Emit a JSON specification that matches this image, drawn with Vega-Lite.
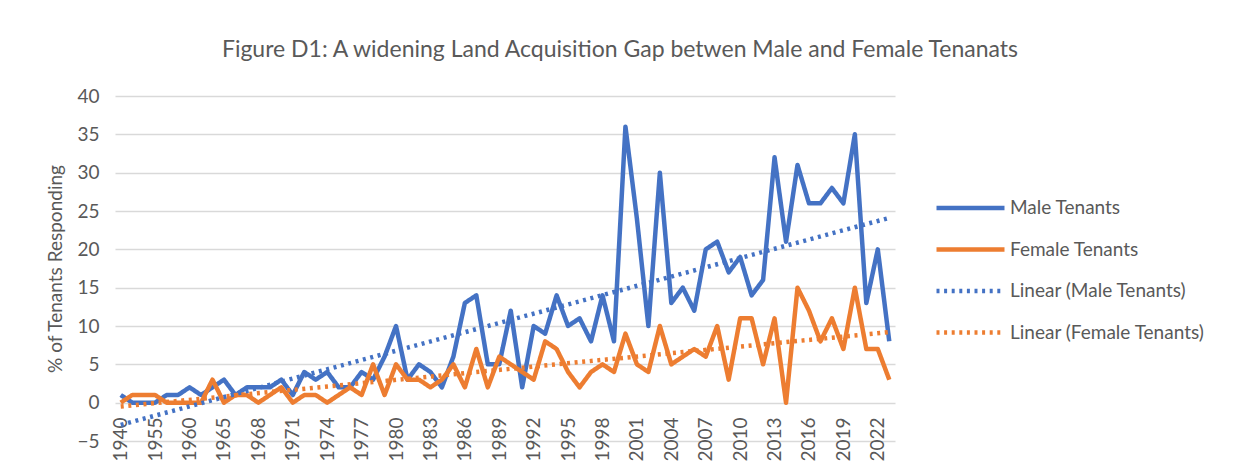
{
  "$schema": "https://vega.github.io/schema/vega-lite/v6.json",
  "width": 780,
  "height": 345,
  "autosize": {"type": "none"},
  "padding": {"left": 115, "top": 96, "right": 339, "bottom": 27},
  "background": "white",
  "title": {
    "text": "Figure D1: A widening Land Acquisition Gap betwen Male and Female Tenanats",
    "fontSize": 23,
    "font": "Lato",
    "fontWeight": "normal",
    "color": "#595959",
    "anchor": "middle",
    "frame": "group",
    "dx": 115,
    "offset": 25
  },
  "config": {
    "view": {"stroke": null},
    "font": "Lato"
  },
  "data": {
    "values": [
      {"year": 1940, "series": "Male Tenants", "value": 1},
      {"year": 1945, "series": "Male Tenants", "value": 0},
      {"year": 1950, "series": "Male Tenants", "value": 0},
      {"year": 1955, "series": "Male Tenants", "value": 0},
      {"year": 1956, "series": "Male Tenants", "value": 1},
      {"year": 1958, "series": "Male Tenants", "value": 1},
      {"year": 1960, "series": "Male Tenants", "value": 2},
      {"year": 1962, "series": "Male Tenants", "value": 1},
      {"year": 1964, "series": "Male Tenants", "value": 2},
      {"year": 1965, "series": "Male Tenants", "value": 3},
      {"year": 1966, "series": "Male Tenants", "value": 1},
      {"year": 1967, "series": "Male Tenants", "value": 2},
      {"year": 1968, "series": "Male Tenants", "value": 2},
      {"year": 1969, "series": "Male Tenants", "value": 2},
      {"year": 1970, "series": "Male Tenants", "value": 3},
      {"year": 1971, "series": "Male Tenants", "value": 1},
      {"year": 1972, "series": "Male Tenants", "value": 4},
      {"year": 1973, "series": "Male Tenants", "value": 3},
      {"year": 1974, "series": "Male Tenants", "value": 4},
      {"year": 1975, "series": "Male Tenants", "value": 2},
      {"year": 1976, "series": "Male Tenants", "value": 2},
      {"year": 1977, "series": "Male Tenants", "value": 4},
      {"year": 1978, "series": "Male Tenants", "value": 3},
      {"year": 1979, "series": "Male Tenants", "value": 6},
      {"year": 1980, "series": "Male Tenants", "value": 10},
      {"year": 1981, "series": "Male Tenants", "value": 3},
      {"year": 1982, "series": "Male Tenants", "value": 5},
      {"year": 1983, "series": "Male Tenants", "value": 4},
      {"year": 1984, "series": "Male Tenants", "value": 2},
      {"year": 1985, "series": "Male Tenants", "value": 6},
      {"year": 1986, "series": "Male Tenants", "value": 13},
      {"year": 1987, "series": "Male Tenants", "value": 14},
      {"year": 1988, "series": "Male Tenants", "value": 5},
      {"year": 1989, "series": "Male Tenants", "value": 5},
      {"year": 1990, "series": "Male Tenants", "value": 12},
      {"year": 1991, "series": "Male Tenants", "value": 2},
      {"year": 1992, "series": "Male Tenants", "value": 10},
      {"year": 1993, "series": "Male Tenants", "value": 9},
      {"year": 1994, "series": "Male Tenants", "value": 14},
      {"year": 1995, "series": "Male Tenants", "value": 10},
      {"year": 1996, "series": "Male Tenants", "value": 11},
      {"year": 1997, "series": "Male Tenants", "value": 8},
      {"year": 1998, "series": "Male Tenants", "value": 14},
      {"year": 1999, "series": "Male Tenants", "value": 8},
      {"year": 2000, "series": "Male Tenants", "value": 36},
      {"year": 2001, "series": "Male Tenants", "value": 24},
      {"year": 2002, "series": "Male Tenants", "value": 10},
      {"year": 2003, "series": "Male Tenants", "value": 30},
      {"year": 2004, "series": "Male Tenants", "value": 13},
      {"year": 2005, "series": "Male Tenants", "value": 15},
      {"year": 2006, "series": "Male Tenants", "value": 12},
      {"year": 2007, "series": "Male Tenants", "value": 20},
      {"year": 2008, "series": "Male Tenants", "value": 21},
      {"year": 2009, "series": "Male Tenants", "value": 17},
      {"year": 2010, "series": "Male Tenants", "value": 19},
      {"year": 2011, "series": "Male Tenants", "value": 14},
      {"year": 2012, "series": "Male Tenants", "value": 16},
      {"year": 2013, "series": "Male Tenants", "value": 32},
      {"year": 2014, "series": "Male Tenants", "value": 21},
      {"year": 2015, "series": "Male Tenants", "value": 31},
      {"year": 2016, "series": "Male Tenants", "value": 26},
      {"year": 2017, "series": "Male Tenants", "value": 26},
      {"year": 2018, "series": "Male Tenants", "value": 28},
      {"year": 2019, "series": "Male Tenants", "value": 26},
      {"year": 2020, "series": "Male Tenants", "value": 35},
      {"year": 2021, "series": "Male Tenants", "value": 13},
      {"year": 2022, "series": "Male Tenants", "value": 20},
      {"year": 2023, "series": "Male Tenants", "value": 8},
      {"year": 1940, "series": "Female Tenants", "value": 0},
      {"year": 1945, "series": "Female Tenants", "value": 1},
      {"year": 1950, "series": "Female Tenants", "value": 1},
      {"year": 1955, "series": "Female Tenants", "value": 1},
      {"year": 1956, "series": "Female Tenants", "value": 0},
      {"year": 1958, "series": "Female Tenants", "value": 0},
      {"year": 1960, "series": "Female Tenants", "value": 0},
      {"year": 1962, "series": "Female Tenants", "value": 0},
      {"year": 1964, "series": "Female Tenants", "value": 3},
      {"year": 1965, "series": "Female Tenants", "value": 0},
      {"year": 1966, "series": "Female Tenants", "value": 1},
      {"year": 1967, "series": "Female Tenants", "value": 1},
      {"year": 1968, "series": "Female Tenants", "value": 0},
      {"year": 1969, "series": "Female Tenants", "value": 1},
      {"year": 1970, "series": "Female Tenants", "value": 2},
      {"year": 1971, "series": "Female Tenants", "value": 0},
      {"year": 1972, "series": "Female Tenants", "value": 1},
      {"year": 1973, "series": "Female Tenants", "value": 1},
      {"year": 1974, "series": "Female Tenants", "value": 0},
      {"year": 1975, "series": "Female Tenants", "value": 1},
      {"year": 1976, "series": "Female Tenants", "value": 2},
      {"year": 1977, "series": "Female Tenants", "value": 1},
      {"year": 1978, "series": "Female Tenants", "value": 5},
      {"year": 1979, "series": "Female Tenants", "value": 1},
      {"year": 1980, "series": "Female Tenants", "value": 5},
      {"year": 1981, "series": "Female Tenants", "value": 3},
      {"year": 1982, "series": "Female Tenants", "value": 3},
      {"year": 1983, "series": "Female Tenants", "value": 2},
      {"year": 1984, "series": "Female Tenants", "value": 3},
      {"year": 1985, "series": "Female Tenants", "value": 5},
      {"year": 1986, "series": "Female Tenants", "value": 2},
      {"year": 1987, "series": "Female Tenants", "value": 7},
      {"year": 1988, "series": "Female Tenants", "value": 2},
      {"year": 1989, "series": "Female Tenants", "value": 6},
      {"year": 1990, "series": "Female Tenants", "value": 5},
      {"year": 1991, "series": "Female Tenants", "value": 4},
      {"year": 1992, "series": "Female Tenants", "value": 3},
      {"year": 1993, "series": "Female Tenants", "value": 8},
      {"year": 1994, "series": "Female Tenants", "value": 7},
      {"year": 1995, "series": "Female Tenants", "value": 4},
      {"year": 1996, "series": "Female Tenants", "value": 2},
      {"year": 1997, "series": "Female Tenants", "value": 4},
      {"year": 1998, "series": "Female Tenants", "value": 5},
      {"year": 1999, "series": "Female Tenants", "value": 4},
      {"year": 2000, "series": "Female Tenants", "value": 9},
      {"year": 2001, "series": "Female Tenants", "value": 5},
      {"year": 2002, "series": "Female Tenants", "value": 4},
      {"year": 2003, "series": "Female Tenants", "value": 10},
      {"year": 2004, "series": "Female Tenants", "value": 5},
      {"year": 2005, "series": "Female Tenants", "value": 6},
      {"year": 2006, "series": "Female Tenants", "value": 7},
      {"year": 2007, "series": "Female Tenants", "value": 6},
      {"year": 2008, "series": "Female Tenants", "value": 10},
      {"year": 2009, "series": "Female Tenants", "value": 3},
      {"year": 2010, "series": "Female Tenants", "value": 11},
      {"year": 2011, "series": "Female Tenants", "value": 11},
      {"year": 2012, "series": "Female Tenants", "value": 5},
      {"year": 2013, "series": "Female Tenants", "value": 11},
      {"year": 2014, "series": "Female Tenants", "value": 0},
      {"year": 2015, "series": "Female Tenants", "value": 15},
      {"year": 2016, "series": "Female Tenants", "value": 12},
      {"year": 2017, "series": "Female Tenants", "value": 8},
      {"year": 2018, "series": "Female Tenants", "value": 11},
      {"year": 2019, "series": "Female Tenants", "value": 7},
      {"year": 2020, "series": "Female Tenants", "value": 15},
      {"year": 2021, "series": "Female Tenants", "value": 7},
      {"year": 2022, "series": "Female Tenants", "value": 7},
      {"year": 2023, "series": "Female Tenants", "value": 3},
      {"year": 1940, "series": "Linear (Male Tenants)", "value": -2.9},
      {"year": 2023, "series": "Linear (Male Tenants)", "value": 24.1},
      {"year": 1940, "series": "Linear (Female Tenants)", "value": -0.5},
      {"year": 2023, "series": "Linear (Female Tenants)", "value": 9.2}
    ]
  },
  "mark": {"type": "line", "strokeJoin": "round"},
  "encoding": {
    "x": {
      "field": "year",
      "type": "ordinal",
      "scale": {"type": "point", "padding": 0.5},
      "axis": {
        "values": [1940, 1955, 1960, 1965, 1968, 1971, 1974, 1977, 1980, 1983, 1986, 1989, 1992, 1995, 1998, 2001, 2004, 2007, 2010, 2013, 2016, 2019, 2022],
        "orient": "bottom",
        "offset": -38,
        "domain": false,
        "ticks": false,
        "grid": false,
        "labelAngle": -90,
        "labelPadding": 14,
        "labelFontSize": 19,
        "labelColor": "#595959",
        "title": null
      }
    },
    "y": {
      "field": "value",
      "type": "quantitative",
      "scale": {"domain": [-5, 40], "nice": false, "zero": false},
      "axis": {
        "values": [-5, 0, 5, 10, 15, 20, 25, 30, 35, 40],
        "domain": false,
        "ticks": false,
        "grid": true,
        "gridColor": "#D9D9D9",
        "gridWidth": 1.3,
        "labelPadding": 16,
        "labelFontSize": 19,
        "labelColor": "#595959",
        "title": "% of Tenants Responding",
        "titleFontSize": 19,
        "titleFontWeight": "normal",
        "titleColor": "#595959",
        "titlePadding": 11
      }
    },
    "color": {
      "field": "series",
      "type": "nominal",
      "scale": {
        "domain": ["Male Tenants", "Female Tenants", "Linear (Male Tenants)", "Linear (Female Tenants)"],
        "range": ["#4472C4", "#ED7D31", "#4472C4", "#ED7D31"]
      },
      "legend": {
        "title": null,
        "orient": "none",
        "legendX": 819,
        "legendY": 102,
        "symbolType": "stroke",
        "symbolSize": 4624,
        "labelFontSize": 19,
        "labelColor": "#595959",
        "labelOffset": 3,
        "labelLimit": 300,
        "clipHeight": 20,
        "rowPadding": 21.5
      }
    },
    "strokeDash": {
      "field": "series",
      "type": "nominal",
      "scale": {
        "domain": ["Male Tenants", "Female Tenants", "Linear (Male Tenants)", "Linear (Female Tenants)"],
        "range": [[1, 0], [1, 0], [3, 4.6], [3, 4.6]]
      }
    },
    "strokeWidth": {
      "field": "series",
      "type": "nominal",
      "scale": {
        "domain": ["Male Tenants", "Female Tenants", "Linear (Male Tenants)", "Linear (Female Tenants)"],
        "range": [4.5, 4.5, 3, 3]
      }
    }
  }
}
